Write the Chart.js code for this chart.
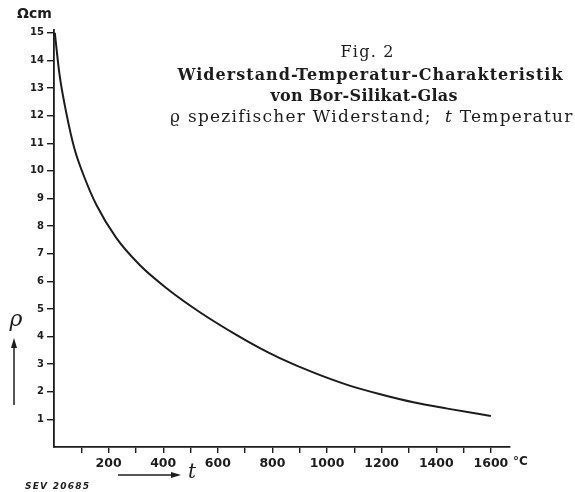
<!DOCTYPE html>
<html lang="de">
<head>
    <meta charset="utf-8">
    <title>Widerstand-Temperatur-Charakteristik</title>
    <script src="https://cdn.jsdelivr.net/npm/chart.js"></script>
    <style>
        body { margin: 0; background: #fff; }
        #chart { display: block; }
    </style>
</head>
<body>
<canvas id="chart" width="575" height="492"></canvas>
<script>
    // Werte (t in °C, rho in Ohm cm)
    const temperatures = [3, 20, 45, 75, 112, 155, 228, 314, 411, 533, 668, 754, 827, 949, 1074, 1195, 1316, 1441, 1600];
    const resistance = [15.0, 13.5, 12.1, 10.8, 9.75, 8.77, 7.57, 6.59, 5.76, 4.89, 4.06, 3.58, 3.22, 2.70, 2.25, 1.91, 1.62, 1.39, 1.12];
    const xTickValues = [100, 200, 300, 400, 500, 600, 700, 800, 900, 1000, 1100, 1200, 1300, 1400, 1500, 1600];
    const xTickLabels = [200, 400, 600, 800, 1000, 1200, 1400, 1600];
    const yTickLabels = [1, 2, 3, 4, 5, 6, 7, 8, 9, 10, 11, 12, 13, 14, 15];

    const ink = '#1c1c1c';

    // Text mit Sperrung auf eine Breite bringen
    function drawRuns(ctx, runs, cx, cy, width) {
        let natural = 0, count = 0;
        runs.forEach(r => {
            ctx.font = r.font;
            ctx.letterSpacing = '0px';
            natural += ctx.measureText(r.text).width;
            count += r.text.length;
        });
        const ls = (width - natural) / Math.max(1, count - 1);
        let x = cx - width / 2;
        ctx.textAlign = 'left';
        ctx.textBaseline = 'middle';
        runs.forEach(r => {
            ctx.font = r.font;
            ctx.letterSpacing = ls + 'px';
            ctx.fillText(r.text, x, cy);
            x += ctx.measureText(r.text).width;
        });
        ctx.letterSpacing = '0px';
    }

    function arrow(ctx, x1, y1, x2, y2) {
        const a = Math.atan2(y2 - y1, x2 - x1);
        ctx.beginPath();
        ctx.moveTo(x1, y1);
        ctx.lineTo(x2 - 6 * Math.cos(a), y2 - 6 * Math.sin(a));
        ctx.lineWidth = 1.5;
        ctx.stroke();
        ctx.beginPath();
        ctx.moveTo(x2, y2);
        ctx.lineTo(x2 - 10 * Math.cos(a) + 3 * Math.sin(a), y2 - 10 * Math.sin(a) - 3 * Math.cos(a));
        ctx.lineTo(x2 - 10 * Math.cos(a) - 3 * Math.sin(a), y2 - 10 * Math.sin(a) + 3 * Math.cos(a));
        ctx.closePath();
        ctx.fill();
    }

    const annotations = {
        id: 'annotations',
        afterDraw(chart) {
            const ctx = chart.ctx;
            ctx.save();
            ctx.fillStyle = ink;
            ctx.strokeStyle = ink;

            // Titelblock
            const serif = '"DejaVu Serif", "Liberation Serif", serif';
            drawRuns(ctx, [{ text: 'Fig. 2', font: '16px ' + serif }], 367, 53, 53);
            drawRuns(ctx, [{ text: 'Widerstand-Temperatur-Charakteristik', font: 'bold 16px ' + serif }], 370, 76, 385);
            drawRuns(ctx, [{ text: 'von Bor-Silikat-Glas', font: 'bold 16px ' + serif }], 364, 97, 187);
            drawRuns(ctx, [
                { text: 'ϱ spezifischer Widerstand;  ', font: '17px ' + serif },
                { text: 't', font: 'italic 17px ' + serif },
                { text: ' Temperatur', font: '17px ' + serif }
            ], 371, 118, 402);

            // Achsenbeschriftungen
            ctx.textBaseline = 'middle';
            ctx.textAlign = 'left';
            ctx.font = 'bold 14px "DejaVu Sans", sans-serif';
            ctx.fillText('Ωcm', 17, 14);

            ctx.textAlign = 'center';
            ctx.font = 'italic 22px "DejaVu Serif", serif';
            ctx.fillText('ρ', 16, 320);
            arrow(ctx, 14, 405, 14, 338);

            arrow(ctx, 118, 475, 181, 475);
            ctx.font = 'italic 20px "DejaVu Serif", serif';
            ctx.fillText('t', 192, 473);

            ctx.textAlign = 'left';
            ctx.font = 'bold 12px "DejaVu Sans", sans-serif';
            ctx.fillText('°C', 513, 462);

            drawRuns(ctx, [{ text: 'SEV 20685', font: 'italic bold 9px "DejaVu Sans", sans-serif' }], 57, 487, 64);
            ctx.restore();
        }
    };

    const points = temperatures.map((t, i) => ({ x: t, y: resistance[i] }));

    new Chart(document.getElementById('chart').getContext('2d'), {
        type: 'line',
        data: {
            datasets: [{
                data: points,
                borderColor: ink,
                borderWidth: 2,
                pointRadius: 0,
                fill: false,
                cubicInterpolationMode: 'monotone'
            }]
        },
        options: {
            responsive: false,
            animation: false,
            layout: { padding: { left: 0, right: 65, top: 30, bottom: 0 } },
            plugins: {
                legend: { display: false },
                tooltip: { enabled: false }
            },
            scales: {
                x: {
                    type: 'linear',
                    min: 0,
                    max: 1670,
                    border: { color: ink, width: 1.8 },
                    grid: { drawOnChartArea: false, tickLength: 6, color: ink, lineWidth: 1.4 },
                    ticks: {
                        autoSkip: false,
                        maxRotation: 0,
                        padding: 3,
                        color: ink,
                        font: { family: 'DejaVu Sans', weight: 'bold', size: 12.5 },
                        callback: v => xTickLabels.includes(v) ? String(v) : ''
                    },
                    afterBuildTicks: s => { s.ticks = xTickValues.map(v => ({ value: v })); },
                    afterFit: s => { s.height = 45; }
                },
                y: {
                    min: 0,
                    max: 15.1,
                    border: { color: ink, width: 1.8 },
                    grid: { drawOnChartArea: false, tickLength: 7, color: ink, lineWidth: 1.4 },
                    ticks: {
                        autoSkip: false,
                        padding: 3,
                        color: ink,
                        font: { family: 'DejaVu Sans', weight: 'bold', size: 10 },
                        callback: v => yTickLabels.includes(v) ? String(v) : ''
                    },
                    afterBuildTicks: s => { s.ticks = yTickLabels.map(v => ({ value: v })); },
                    afterFit: s => { s.width = 54; }
                }
            }
        },
        plugins: [annotations]
    });
</script>
</body>
</html>
